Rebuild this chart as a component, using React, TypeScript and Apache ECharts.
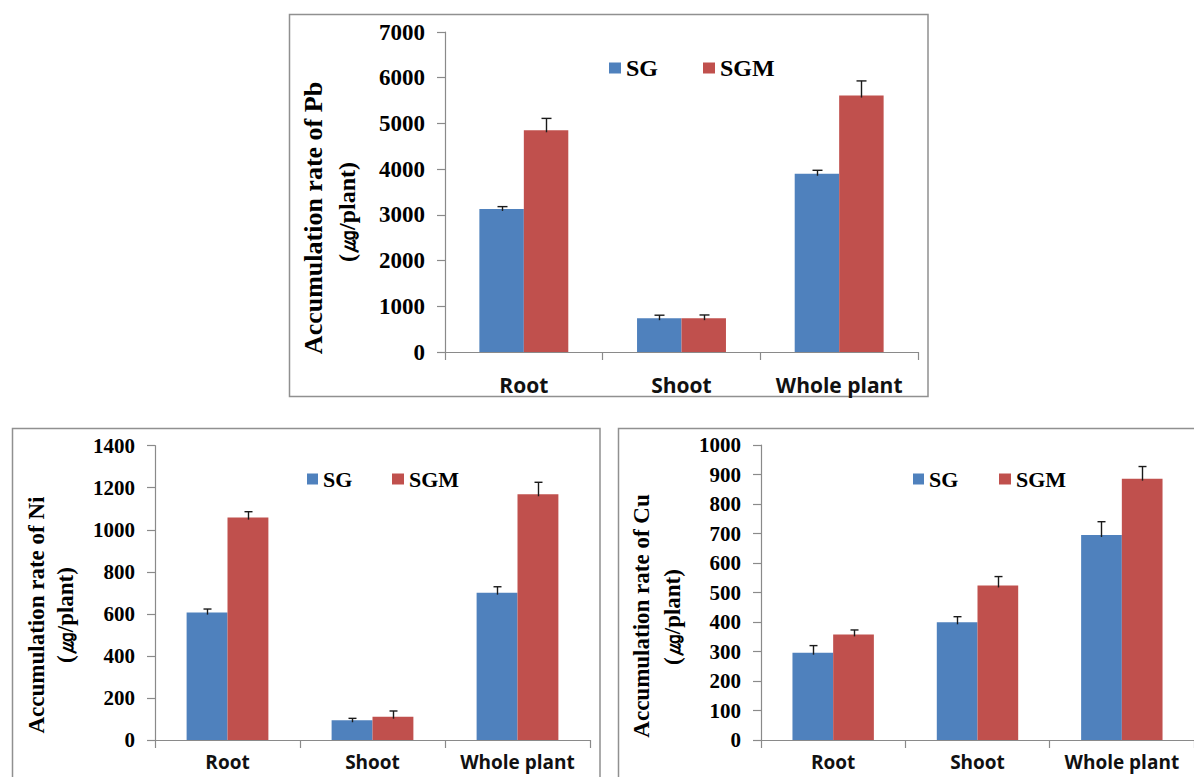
import React, { useEffect, useRef } from "react";
import * as echarts from "echarts";

const categories = ["Root", "Shoot", "Whole plant"];

const pbSG = [3130, 740, 3900];
const pbSGErr = [50, 65, 75];
const pbSGM = [4850, 740, 5610];
const pbSGMErr = [260, 70, 320];

const niSG = [606, 94, 701];
const niSGErr = [17, 9, 28];
const niSGM = [1058, 111, 1169];
const niSGMErr = [28, 27, 57];

const cuSG = [296, 399, 695];
const cuSGErr = [24, 19, 45];
const cuSGM = [358, 524, 886];
const cuSGMErr = [15, 30, 41];

const seriesNames = ["SG", "SGM"];
const yTitles = ["Accumulation rate of Pb", "Accumulation rate of Ni", "Accumulation rate of Cu"];
const unitTitle = "(㎍/plant)";

const SG_COLOR = "#4F81BD";
const SGM_COLOR = "#C0504D";
const AXIS_COLOR = "#8a8a8a";
const GAP = 0.436;
const SERIF = "'Liberation Serif', 'Times New Roman', serif";
const SANS = "'Open Sans', 'DejaVu Sans', sans-serif";

export default function App() {
  const ref = useRef<HTMLDivElement>(null);

  useEffect(() => {
    if (!ref.current) return;
    const chart = echarts.init(ref.current, undefined, { renderer: "svg" });

    const panels = [
      { sg: pbSG, sgE: pbSGErr, sgm: pbSGM, sgmE: pbSGMErr, max: 7000, interval: 1000,
        grid: { left: 445, top: 32, width: 473, height: 320 }, tickFont: 23, catFont: 21, catMargin: 22, cap: 10 },
      { sg: niSG, sgE: niSGErr, sgm: niSGM, sgmE: niSGMErr, max: 1400, interval: 200,
        grid: { left: 155, top: 445.7, width: 435, height: 294.3 }, tickFont: 21, catFont: 19, catMargin: 12, cap: 8 },
      { sg: cuSG, sgE: cuSGErr, sgm: cuSGM, sgmE: cuSGMErr, max: 1000, interval: 100,
        grid: { left: 761, top: 445, width: 438, height: 295 }, tickFont: 21, catFont: 19, catMargin: 12, cap: 8 },
    ];

    const grids: any[] = [];
    const xAxes: any[] = [];
    const yAxes: any[] = [];
    const series: any[] = [];

    const errRender = (side: number, cap: number) => (params: any, api: any) => {
      const idx = api.value(0);
      const v = api.value(1);
      const e = api.value(2);
      const base = api.coord([idx, v]);
      const top = api.coord([idx, v + e]);
      const band = api.size([1, 0])[0];
      const barW = (band * (1 - GAP)) / 2;
      const cx = Math.round(base[0] + side * barW / 2) + 0.5;
      const st = { stroke: "#1a1a1a", lineWidth: 1.4 };
      return {
        type: "group",
        children: [
          { type: "line", shape: { x1: cx, y1: base[1] + 2, x2: cx, y2: top[1] }, style: st },
          { type: "line", shape: { x1: cx - cap / 2, y1: top[1], x2: cx + cap / 2, y2: top[1] }, style: st },
        ],
      };
    };

    panels.forEach((p, i) => {
      grids.push({ ...p.grid, containLabel: false });
      xAxes.push({
        type: "category",
        gridIndex: i,
        data: categories,
        axisLine: { show: true, lineStyle: { color: AXIS_COLOR, width: 1.2 } },
        axisTick: { show: true, length: 8, lineStyle: { color: AXIS_COLOR, width: 1.2 } },
        axisLabel: {
          interval: 0,
          margin: p.catMargin,
          color: "#111",
          fontFamily: SANS,
          fontWeight: "bold",
          fontSize: p.catFont,
          lineHeight: p.catFont,
        },
        splitLine: { show: false },
      });
      yAxes.push({
        type: "value",
        gridIndex: i,
        min: 0,
        max: p.max,
        interval: p.interval,
        axisLine: { show: true, lineStyle: { color: AXIS_COLOR, width: 1.2 } },
        axisTick: { show: true, length: 8, lineStyle: { color: AXIS_COLOR, width: 1.2 } },
        axisLabel: {
          margin: 20,
          color: "#000",
          fontFamily: SERIF,
          fontWeight: "bold",
          fontSize: p.tickFont,
          formatter: (v: number) => String(v),
        },
        splitLine: { show: false },
      });
      series.push({
        type: "bar",
        name: seriesNames[0],
        xAxisIndex: i,
        yAxisIndex: i,
        data: p.sg,
        barGap: "0%",
        barCategoryGap: GAP * 100 + "%",
        itemStyle: { color: SG_COLOR },
      });
      series.push({
        type: "bar",
        name: seriesNames[1],
        xAxisIndex: i,
        yAxisIndex: i,
        data: p.sgm,
        barGap: "0%",
        barCategoryGap: GAP * 100 + "%",
        itemStyle: { color: SGM_COLOR },
      });
      series.push({
        type: "custom",
        name: "err-sg-" + i,
        xAxisIndex: i,
        yAxisIndex: i,
        data: p.sg.map((v, k) => [k, v, p.sgE[k]]),
        encode: { x: 0, y: 1 },
        renderItem: errRender(-1, p.cap),
        z: 5,
        silent: true,
      });
      series.push({
        type: "custom",
        name: "err-sgm-" + i,
        xAxisIndex: i,
        yAxisIndex: i,
        data: p.sgm.map((v, k) => [k, v, p.sgmE[k]]),
        encode: { x: 0, y: 1 },
        renderItem: errRender(1, p.cap),
        z: 5,
        silent: true,
      });
    });

    const legendDefs = [
      { name: "SG", left: 609, top: 56, size: 24, w: 12, h: 11 },
      { name: "SGM", left: 703, top: 56, size: 24, w: 12, h: 11 },
      { name: "SG", left: 307, top: 468, size: 22, w: 11, h: 11 },
      { name: "SGM", left: 392, top: 468, size: 22, w: 12, h: 11 },
      { name: "SG", left: 913, top: 468, size: 22, w: 11, h: 11 },
      { name: "SGM", left: 999, top: 468, size: 22, w: 12, h: 11 },
    ];
    const legends = legendDefs.map((l) => ({
      data: [l.name],
      left: l.left,
      top: l.top,
      orient: "horizontal",
      icon: "rect",
      itemWidth: l.w,
      itemHeight: l.h,
      padding: 0,
      selectedMode: false,
      textStyle: {
        fontFamily: SERIF,
        fontWeight: "bold",
        fontSize: l.size,
        lineHeight: l.size,
        color: "#000",
      },
    }));

    const titleDefs = [
      { text: yTitles[0], x: 313.5, y: 218, size: 26 },
      { text: unitTitle, x: 346.5, y: 212, size: 24 },
      { text: yTitles[1], x: 36, y: 615, size: 23 },
      { text: unitTitle, x: 65, y: 615, size: 23 },
      { text: yTitles[2], x: 641.5, y: 616, size: 23 },
      { text: unitTitle, x: 672, y: 617, size: 23 },
    ];

    const graphics: any[] = [
      { type: "rect", shape: { x: 289.5, y: 14.5, width: 638.5, height: 382 }, style: { fill: "none", stroke: "#909090", lineWidth: 1.5 }, silent: true },
      { type: "rect", shape: { x: 12.5, y: 428.5, width: 587.5, height: 370 }, style: { fill: "none", stroke: "#909090", lineWidth: 1.5 }, silent: true },
      { type: "rect", shape: { x: 618.5, y: 428.5, width: 620, height: 370 }, style: { fill: "none", stroke: "#909090", lineWidth: 1.5 }, silent: true },
      ...titleDefs.map((t) => ({
        type: "text",
        x: t.x,
        y: t.y,
        rotation: Math.PI / 2,
        silent: true,
        style: {
          text: t.text,
          align: "center",
          verticalAlign: "middle",
          fontFamily: SERIF,
          fontWeight: "bold",
          fontSize: t.size,
          fill: "#000",
        },
      })),
    ];

    chart.setOption({
      animation: false,
      backgroundColor: "#ffffff",
      grid: grids,
      xAxis: xAxes,
      yAxis: yAxes,
      legend: legends,
      series,
      graphic: graphics,
    });

    return () => chart.dispose();
  }, []);

  return (
    <div
      ref={ref}
      style={{ position: "fixed", left: 0, top: 0, width: 1194, height: 777, background: "#fff" }}
    />
  );
}
